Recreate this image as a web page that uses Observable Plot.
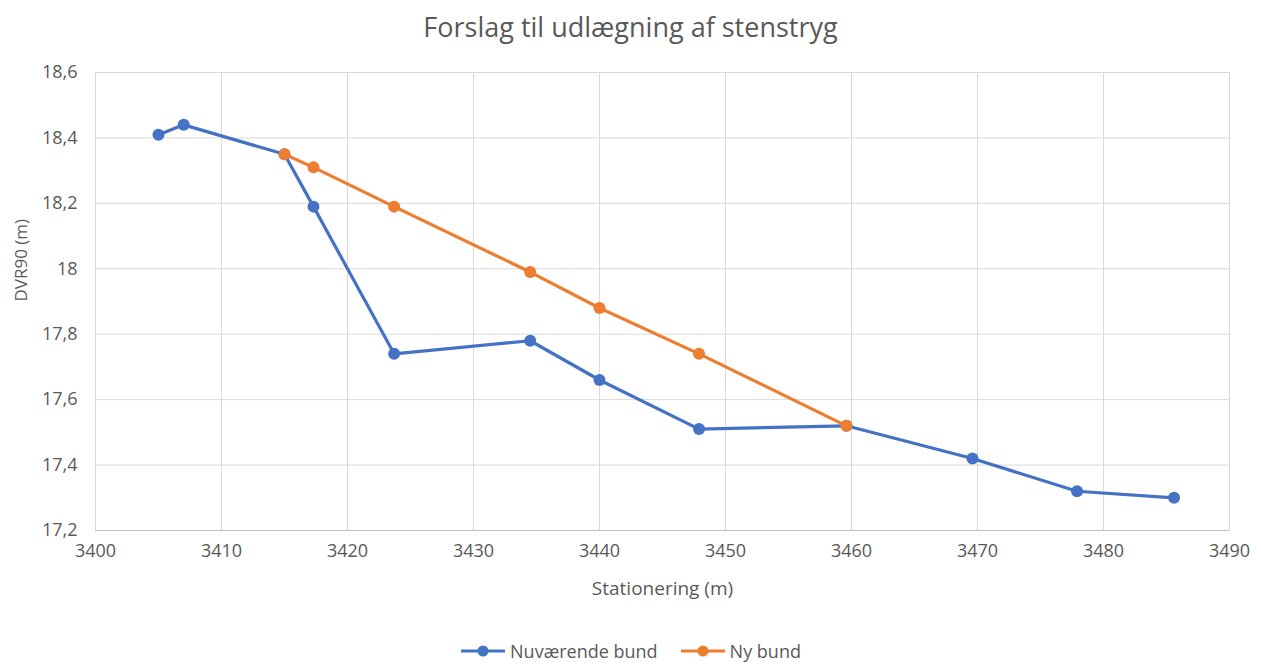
<!DOCTYPE html>
<html>
<head>
<meta charset="utf-8">
<script src="https://cdn.jsdelivr.net/npm/d3@7"></script>
<script src="https://cdn.jsdelivr.net/npm/@observablehq/plot@0.6"></script>
<style>
  body { margin: 0; background: #fff; font-family: "Open Sans", "Liberation Sans", sans-serif; }
  #wrap { width: 1261px; height: 664px; position: relative; overflow: hidden; }
  #title { height: 50px; line-height: 54px; text-align: center; font-size: 27px; color: #595959; }
  #legend { position: absolute; top: 638px; left: 0; width: 1261px; text-align: center; font-size: 18px; color: #595959; line-height: 26px; }
  .li { display: inline-flex; align-items: center; margin: 0 11px; }
  .li svg { margin-right: 4px; }
</style>
</head>
<body>
<div id="wrap">
  <div id="title">Forslag til udlægning af stenstryg</div>
  <div id="chart"></div>
  <div id="legend"></div>
</div>
<script>
const seriesNames = ["Nuværende bund", "Ny bund"];
const seriesColors = ["#4472C4", "#ED7D31"];

const currentX = [3405.0, 3407.0, 3415.0, 3417.3, 3423.7, 3434.5, 3440.0, 3447.9, 3459.6, 3469.6, 3477.9, 3485.6];
const currentY = [18.41, 18.44, 18.35, 18.19, 17.74, 17.78, 17.66, 17.51, 17.52, 17.42, 17.32, 17.30];

const newX = [3415.0, 3417.3, 3423.7, 3434.5, 3440.0, 3447.9, 3459.6];
const newY = [18.35, 18.31, 18.19, 17.99, 17.88, 17.74, 17.52];

const xTicks = [3400, 3410, 3420, 3430, 3440, 3450, 3460, 3470, 3480, 3490];
const yTicks = [17.2, 17.4, 17.6, 17.8, 18.0, 18.2, 18.4, 18.6];

const current = currentX.map((x, i) => ({x, y: currentY[i], s: seriesNames[0]}));
const ny = newX.map((x, i) => ({x, y: newY[i], s: seriesNames[1]}));

const fmt = d => String(Math.round(d * 10) / 10).replace(".", ",");
const textColor = "#595959";

const plot = Plot.plot({
  width: 1261,
  height: 580,
  marginLeft: 95,
  marginRight: 32,
  marginTop: 22,
  marginBottom: 100,
  style: { fontFamily: "'Open Sans', 'Liberation Sans', sans-serif", fontSize: "18px", color: textColor, background: "#fff" },
  x: { domain: [3400, 3490], ticks: xTicks, tickFormat: d => String(d), label: null },
  y: { domain: [17.2, 18.6], ticks: yTicks, tickFormat: fmt, label: null },
  marks: [
    Plot.gridX(xTicks, { stroke: "#d9d9d9", strokeOpacity: 1, strokeWidth: 1 }),
    Plot.gridY(yTicks, { stroke: "#d9d9d9", strokeOpacity: 1, strokeWidth: 1 }),
    Plot.ruleY([17.2], { stroke: "#bfbfbf", strokeWidth: 1 }),
    Plot.axisX({ ticks: xTicks, tickSize: 0, tickPadding: 14, tickFormat: d => String(d), fill: textColor, label: null }),
    Plot.axisY({ ticks: yTicks, tickSize: 0, tickPadding: 18, tickFormat: fmt, fill: textColor, label: null }),
    Plot.line(current, { x: "x", y: "y", stroke: seriesColors[0], strokeWidth: 3.2 }),
    Plot.dot(current, { x: "x", y: "y", fill: seriesColors[0], r: 6 }),
    Plot.line(ny, { x: "x", y: "y", stroke: seriesColors[1], strokeWidth: 3.2 }),
    Plot.dot(ny, { x: "x", y: "y", fill: seriesColors[1], r: 6 }),
    Plot.text(["Stationering (m)"], { frameAnchor: "bottom", dy: 64, fontSize: 19, fill: textColor }),
    Plot.text(["DVR90 (m)"], { frameAnchor: "left", dx: -74, rotate: -90, fontSize: 17, fill: textColor })
  ]
});
d3.select(plot).selectAll('g[aria-label$="tick label"]').attr("font-size", 18)
  .selectAll("text").attr("font-size", 18);
document.getElementById("chart").appendChild(plot);

const legend = document.getElementById("legend");
seriesNames.forEach((name, i) => {
  const span = document.createElement("span");
  span.className = "li";
  span.innerHTML = `<svg width="46" height="14"><line x1="1" y1="7" x2="45" y2="7" stroke="${seriesColors[i]}" stroke-width="3"/><circle cx="23" cy="7" r="5.5" fill="${seriesColors[i]}"/></svg><span>${name}</span>`;
  legend.appendChild(span);
});
</script>
</body>
</html>
